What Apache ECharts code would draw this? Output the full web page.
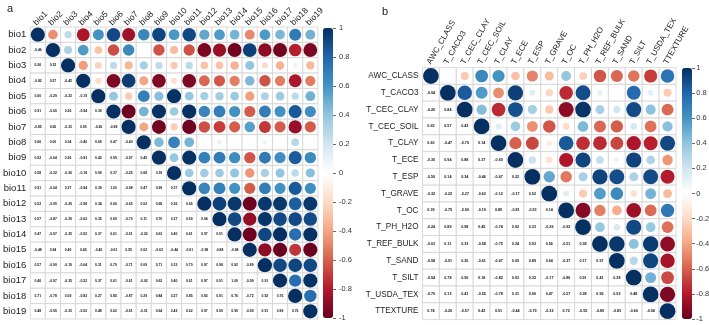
<!DOCTYPE html>
<html>
<head>
<meta charset="utf-8">
<script src="https://cdn.jsdelivr.net/npm/echarts@6/dist/echarts.min.js"></script>
<style>
  html, body { margin: 0; padding: 0; background: #fff; }
  #chart { width: 709px; height: 325px; }
</style>
</head>
<body>
<div id="chart"></div>
<script>
// panel a: bioclim variables, lower triangle of the correlation matrix
const leftNames = ['bio1','bio2','bio3','bio4','bio5','bio6','bio7','bio8','bio9','bio10',
  'bio11','bio12','bio13','bio14','bio15','bio16','bio17','bio18','bio19'];
const leftLower = [
  [],
  [-0.46],
  [0.26, 0.32],
  [-0.82, 0.57, -0.42],
  [0.60, -0.29, -0.23, -0.19],
  [0.91, -0.65, 0.26, -0.94, 0.39],
  [-0.85, 0.65, -0.33, 0.95, -0.26, -0.98],
  [0.66, 0.00, 0.34, -0.40, 0.69, 0.47, -0.40],
  [0.92, -0.64, 0.26, -0.93, 0.42, 0.99, -0.97, 0.45],
  [0.58, -0.32, -0.26, -0.18, 0.99, 0.37, -0.25, 0.68, 0.39],
  [0.91, -0.64, 0.27, -0.94, 0.39, 1.00, -0.98, 0.47, 0.99, 0.37],
  [0.52, -0.95, -0.29, -0.58, 0.34, 0.66, -0.65, 0.02, 0.68, 0.36, 0.66],
  [0.57, -0.87, -0.29, -0.62, 0.35, 0.69, -0.70, 0.11, 0.70, 0.37, 0.69, 0.94],
  [0.47, -0.97, -0.35, -0.52, 0.37, 0.61, -0.61, -0.02, 0.63, 0.40, 0.61, 0.97, 0.91],
  [-0.48, 0.94, 0.40, 0.45, -0.42, -0.61, 0.55, 0.02, -0.63, -0.44, -0.61, -0.98, -0.88, -0.98],
  [0.57, -0.90, -0.19, -0.64, 0.31, 0.70, -0.71, 0.09, 0.71, 0.33, 0.70, 0.97, 0.98, 0.92, -0.89],
  [0.46, -0.97, -0.35, -0.52, 0.37, 0.61, -0.61, -0.02, 0.62, 0.40, 0.61, 0.97, 0.91, 1.00, -0.99, 0.91],
  [0.71, -0.78, 0.09, -0.82, 0.27, 0.85, -0.87, 0.29, 0.84, 0.27, 0.85, 0.83, 0.91, 0.76, -0.72, 0.92, 0.76],
  [0.48, -0.95, -0.33, -0.52, 0.48, 0.62, -0.61, -0.01, 0.64, 0.42, 0.62, 0.97, 0.90, 0.99, -0.99, 0.91, 0.99, 0.76]
];

// panel b: soil variables
const rightNames = ['AWC_CLASS','T_CACO3','T_CEC_CLAY','T_CEC_SOIL','T_CLAY','T_ECE','T_ESP',
  'T_GRAVE','T_OC','T_PH_H2O','T_REF_BULK','T_SAND','T_SILT','T_USDA_TEX','TTEXTURE'];
const rightLower = [
  [],
  [-0.04],
  [-0.26, 0.84],
  [0.65, 0.57, 0.43],
  [0.60, -0.47, -0.75, 0.14],
  [-0.30, 0.94, 0.88, 0.37, -0.60],
  [-0.50, 0.14, 0.34, -0.46, -0.67, 0.22],
  [-0.32, -0.22, -0.27, -0.63, -0.12, -0.17, 0.52],
  [0.39, -0.75, -0.90, -0.19, 0.85, -0.81, -0.53, 0.14],
  [-0.24, 0.89, 0.98, 0.45, -0.74, 0.92, 0.33, -0.26, -0.92],
  [-0.63, 0.11, 0.33, -0.58, -0.75, 0.24, 0.93, 0.56, -0.51, 0.38],
  [-0.58, -0.01, 0.20, -0.61, -0.67, 0.09, 0.89, 0.64, -0.37, 0.17, 0.97],
  [-0.54, 0.78, 0.90, 0.18, -0.82, 0.93, 0.32, -0.17, -0.86, 0.91, 0.41, 0.28],
  [-0.70, 0.13, 0.41, -0.55, -0.78, 0.31, 0.90, 0.47, -0.57, 0.38, 0.96, 0.92, 0.48],
  [0.74, -0.26, -0.57, 0.42, 0.91, -0.44, -0.79, -0.32, 0.72, -0.55, -0.89, -0.83, -0.66, -0.94]
];

const rdbu = ['#67001F','#B2182B','#D6604D','#F4A582','#FDDBC7','#FFFFFF',
  '#D1E5F0','#92C5DE','#4393C3','#2166AC','#053061'];
const FONT = 'Liberation Sans, Arial, sans-serif';

function buildCells(lower) {
  const n = lower.length, cells = [];
  for (let i = 0; i < n; i++) {
    for (let j = 0; j < n; j++) {
      const r = i === j ? 1 : (j < i ? lower[i][j] : lower[j][i]);
      cells.push([j, i, r]);
    }
  }
  return cells;
}

function cellRenderer(fontSize) {
  return function (params, api) {
    const x = api.value(0), y = api.value(1), r = api.value(2);
    const c = api.coord([x, y]);
    const s = api.size([1, 1]);
    const kids = [{
      type: 'rect',
      shape: { x: c[0] - s[0] / 2, y: c[1] - s[1] / 2, width: s[0], height: s[1] },
      style: { fill: '#fff', stroke: '#d2d2d2', lineWidth: 0.8 }
    }];
    if (x >= y) {
      kids.push({
        type: 'circle',
        shape: { cx: c[0], cy: c[1], r: 0.47 * Math.min(s[0], s[1]) * Math.sqrt(Math.abs(r)) },
        style: { fill: api.visual('color') }
      });
    } else {
      kids.push({
        type: 'text',
        style: {
          text: r.toFixed(2), x: c[0], y: c[1], align: 'center', verticalAlign: 'middle',
          fontSize: fontSize, fontFamily: FONT, fontWeight: 'bold', fill: '#111'
        }
      });
    }
    return { type: 'group', children: kids };
  };
}

// rotated column names above the matrix, placed through the axis scale
function headerRenderer(names, deg, fontSize, dx, dy) {
  return function (params, api) {
    const j = api.value(0);
    const c = api.coord([j, 0]);
    const s = api.size([1, 1]);
    return {
      type: 'text',
      x: c[0] + dx, y: c[1] - s[1] / 2 - dy,
      rotation: deg * Math.PI / 180,
      style: {
        text: names[params.dataIndex], align: 'left', verticalAlign: 'middle',
        fontSize: fontSize, fontFamily: FONT, fill: '#222'
      }
    };
  };
}

function catX(names, gi) {
  return {
    type: 'category', gridIndex: gi, data: names, position: 'top',
    axisLine: { show: false }, axisTick: { show: false }, splitLine: { show: false },
    axisLabel: { show: false }
  };
}
function catY(names, gi, fs) {
  return {
    type: 'category', gridIndex: gi, data: names, inverse: true,
    axisLine: { show: false }, axisTick: { show: false }, splitLine: { show: false },
    axisLabel: { margin: 4, fontSize: fs, fontFamily: FONT, color: '#222', interval: 0 }
  };
}
function barAxis(gi, margin) {
  return {
    type: 'value', gridIndex: gi, position: 'right', min: -1, max: 1, interval: 0.2,
    axisLine: { show: false }, splitLine: { show: false },
    axisTick: { show: true, length: 3, lineStyle: { color: '#444', width: 0.8 } },
    axisLabel: { margin: margin, fontSize: 7.5, fontFamily: FONT, color: '#333' }
  };
}

const chart = echarts.init(document.getElementById('chart'));
chart.setOption({
  animation: false,
  title: [
    { text: 'a', left: 2, top: -2, textStyle: { fontSize: 11, fontWeight: 'normal', fontFamily: FONT, color: '#222' } },
    { text: 'b', left: 377, top: 1, textStyle: { fontSize: 11, fontWeight: 'normal', fontFamily: FONT, color: '#222' } }
  ],
  grid: [
    { left: 25.3, top: 27, width: 292.6, height: 292 },
    { left: 422.5, top: 67.6, width: 253.5, height: 252 },
    { left: 333, top: 28, width: 1, height: 290 },
    { left: 692, top: 68, width: 1, height: 251 }
  ],
  xAxis: [
    catX(leftNames, 0),
    catX(rightNames, 1),
    { type: 'value', gridIndex: 2, show: false },
    { type: 'value', gridIndex: 3, show: false }
  ],
  yAxis: [
    catY(leftNames, 0, 9.5),
    catY(rightNames, 1, 8.2),
    barAxis(2, 5),
    barAxis(3, 4)
  ],
  visualMap: [
    { type: 'continuous', seriesIndex: 0, dimension: 2, min: -1, max: 1, calculable: false,
      left: 323, top: 28, itemWidth: 10, itemHeight: 290, padding: 0, hoverLink: false,
      inRange: { color: rdbu } },
    { type: 'continuous', seriesIndex: 1, dimension: 2, min: -1, max: 1, calculable: false,
      left: 682, top: 68, itemWidth: 10, itemHeight: 251, padding: 0, hoverLink: false,
      inRange: { color: rdbu } }
  ],
  series: [
    { type: 'custom', xAxisIndex: 0, yAxisIndex: 0, data: buildCells(leftLower),
      renderItem: cellRenderer(3.4), silent: true },
    { type: 'custom', xAxisIndex: 1, yAxisIndex: 1, data: buildCells(rightLower),
      renderItem: cellRenderer(3.7), silent: true },
    { type: 'custom', xAxisIndex: 0, yAxisIndex: 0, silent: true, clip: false,
      data: leftNames.map((n, j) => [j, 0]),
      renderItem: headerRenderer(leftNames, 45, 8.5, -3, 3) },
    { type: 'custom', xAxisIndex: 1, yAxisIndex: 1, silent: true, clip: false,
      data: rightNames.map((n, j) => [j, 0]),
      renderItem: headerRenderer(rightNames, 60, 8, -2, 4) }
  ]
});
</script>
</body>
</html>
